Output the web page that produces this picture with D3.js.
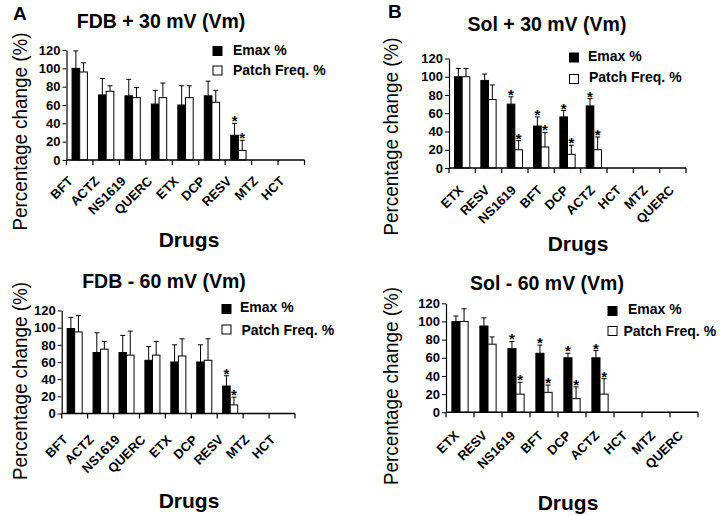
<!DOCTYPE html>
<html><head><meta charset="utf-8">
<script src="https://cdn.jsdelivr.net/npm/d3@7"></script>
<style>
html,body{margin:0;padding:0;background:#fff;}
svg{display:block;font-family:"Liberation Sans",Arial,sans-serif;}
</style></head>
<body><svg id="chart" width="720" height="516"></svg>
<script>
// ---------------- DATA ----------------
const seriesNames = ["Emax %", "Patch Freq. %"];
const yTicks = [0, 20, 40, 60, 80, 100, 120];

// Panel A: FDB + 30 mV
const catsA = ["BFT","ACTZ","NS1619","QUERC","ETX","DCP","RESV","MTZ","HCT"];
const emaxA = [100, 71, 70, 61, 60, 70, 27, 0, 0];
const emaxErrA = [19, 18, 18, 15, 21, 16, 13, 0, 0];
const patchA = [96, 75, 68, 68, 68, 63, 10.5, 0, 0];
const patchErrA = [10, 6, 11, 16, 13, 13, 11, 0, 0];
const starsA = ["RESV"];

// Panel B: Sol + 30 mV
const catsB = ["ETX","RESV","NS1619","BFT","DCP","ACTZ","HCT","MTZ","QUERC"];
const emaxB = [100, 96, 70, 46, 56, 68, 0, 0, 0];
const emaxErrB = [9, 7, 8, 10, 7, 8, 0, 0, 0];
const patchB = [100, 75, 20, 23, 15, 20, 0, 0, 0];
const patchErrB = [9, 16, 10, 16, 10, 14, 0, 0, 0];
const starsB = ["NS1619","BFT","DCP","ACTZ"];

// Panel C: FDB - 60 mV
const catsC = ["BFT","ACTZ","NS1619","QUERC","ETX","DCP","RESV","MTZ","HCT"];
const emaxC = [99, 71, 71, 62, 60, 60, 32, 0, 0];
const emaxErrC = [13, 23, 20, 16, 20, 20, 12, 0, 0];
const patchC = [95, 75, 68, 68, 67, 62, 10, 0, 0];
const patchErrC = [19, 9, 28, 16, 20, 25, 9, 0, 0];
const starsC = ["RESV"];

// Panel D: Sol - 60 mV
const catsD = ["ETX","RESV","NS1619","BFT","DCP","ACTZ","HCT","MTZ","QUERC"];
const emaxD = [100, 95, 70, 65, 60, 60, 0, 0, 0];
const emaxErrD = [6, 9, 8, 9, 5, 8, 0, 0, 0];
const patchD = [100, 75, 20, 22, 15, 20, 0, 0, 0];
const patchErrD = [14, 8, 13, 8, 13, 17, 0, 0, 0];
const starsD = ["NS1619","BFT","DCP","ACTZ"];

// ---------------- LAYOUT ----------------
const panels = [
  {letter:"A", lx:13, ly:20, title:"FDB + 30 mV (Vm)", tx:161, ty:28,
   cats:catsA, emax:emaxA, emaxErr:emaxErrA, patch:patchA, patchErr:patchErrA, stars:starsA,
   x0:66.5, x1:304.5, yb:160, yt:50, ylx:26.5, yly:131.5,
   dx:189, dy:247, sqx:213, sqy1:46.5, sqy2:66, t1x:233, t2x:233, t1y:54.5, t2y:75,
   labDx:-6, labDy:22},
  {letter:"B", lx:388, ly:18, title:"Sol + 30 mV (Vm)", tx:547, ty:30.5,
   cats:catsB, emax:emaxB, emaxErr:emaxErrB, patch:patchB, patchErr:patchErrB, stars:starsB,
   x0:449, x1:686, yb:168, yt:58.5, ylx:398, yly:136.5,
   dx:578, dy:251, sqx:569.5, sqy1:53, sqy2:74.5, t1x:588, t2x:589, t1y:60.5, t2y:82,
   labDx:2, labDy:23},
  {letter:"", title:"FDB - 60 mV (Vm)", tx:164, ty:288,
   cats:catsC, emax:emaxC, emaxErr:emaxErrC, patch:patchC, patchErr:patchErrC, stars:starsC,
   x0:61.7, x1:295, yb:413.5, yt:310.5, ylx:26.5, yly:381,
   dx:189, dy:508, sqx:222, sqy1:304.5, sqy2:325, t1x:240, t2x:241.5, t1y:312, t2y:335,
   labDx:-6, labDy:27},
  {letter:"", title:"Sol - 60 mV (Vm)", tx:547, ty:290,
   cats:catsD, emax:emaxD, emaxErr:emaxErrD, patch:patchD, patchErr:patchErrD, stars:starsD,
   x0:446, x1:698, yb:412.3, yt:303.3, ylx:398, yly:386,
   dx:568, dy:510, sqx:608, sqy1:306.5, sqy2:326.5, t1x:628, t2x:623.5, t1y:314, t2y:335.5,
   labDx:0, labDy:24}
];

const svg = d3.select("#chart");
svg.append("rect").attr("width",720).attr("height",516).attr("fill","#fff");

function drawPanel(p) {
  const g = svg.append("g");
  const n = p.cats.length;
  const pad = 0.42;
  const x = d3.scaleBand().domain(p.cats).range([p.x0, p.x1])
              .paddingInner(pad).paddingOuter(pad/2);
  const xs = d3.scaleBand().domain(seriesNames).range([0, x.bandwidth()]);
  const y = d3.scaleLinear().domain([0,120]).range([p.yb, p.yt]);
  const step = x.step();

  const rows = p.cats.map((c,i) => ({cat:c, vals:[
      {s:seriesNames[0], v:p.emax[i], e:p.emaxErr[i], star:p.stars.includes(c)},
      {s:seriesNames[1], v:p.patch[i], e:p.patchErr[i], star:p.stars.includes(c)}]}));

  // bars
  const grp = g.selectAll("g.cat").data(rows).join("g")
     .attr("transform", d => `translate(${x(d.cat)},0)`);
  grp.selectAll("rect").data(d => d.vals.filter(v => v.v > 0)).join("rect")
     .attr("x", d => xs(d.s)).attr("width", xs.bandwidth())
     .attr("y", d => y(d.v)).attr("height", d => y(0) - y(d.v))
     .attr("fill", d => d.s === seriesNames[0] ? "#000" : "#fff")
     .attr("stroke", "#000").attr("stroke-width", 1);
  // error bars
  const eb = grp.selectAll("g.err").data(d => d.vals.filter(v => v.e > 0)).join("g");
  eb.append("line")
    .attr("x1", d => xs(d.s) + xs.bandwidth()/2).attr("x2", d => xs(d.s) + xs.bandwidth()/2)
    .attr("y1", d => y(d.v)).attr("y2", d => y(d.v + d.e))
    .attr("stroke","#000").attr("stroke-width",1);
  eb.append("line")
    .attr("x1", d => xs(d.s) + xs.bandwidth()/2 - 2.5).attr("x2", d => xs(d.s) + xs.bandwidth()/2 + 2.5)
    .attr("y1", d => y(d.v + d.e)).attr("y2", d => y(d.v + d.e))
    .attr("stroke","#000").attr("stroke-width",1);
  // significance stars
  grp.selectAll("text.star").data(d => d.vals.filter(v => v.star && v.v > 0)).join("text")
    .attr("x", d => xs(d.s) + xs.bandwidth()/2)
    .attr("y", d => y(d.v + d.e) + 3)
    .attr("text-anchor","middle").attr("font-size",15).attr("font-weight","bold").text("*");

  // y axis
  const ya = g.append("g").attr("transform", `translate(${p.x0},0)`)
     .call(d3.axisLeft(y).tickValues(yTicks).tickSize(4).tickPadding(2).tickSizeOuter(0));
  ya.select(".domain").attr("stroke","#000").attr("stroke-width",1.2);
  ya.selectAll("text").attr("font-size",13).attr("font-weight","bold")
     .attr("font-family","Liberation Sans, Arial, sans-serif").attr("fill","#000");
  ya.selectAll(".tick line").attr("stroke","#000");

  // x axis line + boundary ticks
  g.append("line").attr("x1",p.x0).attr("x2",p.x1).attr("y1",y(0)).attr("y2",y(0))
     .attr("stroke","#000").attr("stroke-width",1.4);
  const bounds = d3.range(n+1);
  g.selectAll("line.xt").data(bounds).join("line")
     .attr("x1", i => p.x0 + i*step).attr("x2", i => p.x0 + i*step)
     .attr("y1", y(0)).attr("y2", y(0)+5).attr("stroke","#000").attr("stroke-width",1.2);
  // category labels
  g.selectAll("text.xl").data(p.cats).join("text")
     .attr("transform", c => `translate(${x(c) + x.bandwidth()/2 + p.labDx},${y(0) + p.labDy}) rotate(-45)`)
     .attr("text-anchor","end").attr("font-size",13).attr("font-weight","bold").text(c => c);

  // titles & labels
  g.append("text").attr("x",p.tx).attr("y",p.ty).attr("text-anchor","middle")
     .attr("font-size",19.5).attr("font-weight","bold").text(p.title);
  if (p.letter) g.append("text").attr("x",p.lx).attr("y",p.ly)
     .attr("font-size",19).attr("font-weight","bold").text(p.letter);
  g.append("text").attr("transform",`translate(${p.ylx},${p.yly}) rotate(-90)`)
     .attr("text-anchor","middle").attr("font-size",20)
     .attr("textLength",198).attr("lengthAdjust","spacingAndGlyphs")
     .text("Percentage change (%)");
  g.append("text").attr("x",p.dx).attr("y",p.dy).attr("text-anchor","middle")
     .attr("font-size",21).attr("font-weight","bold").text("Drugs");

  // legend
  g.append("rect").attr("x",p.sqx).attr("y",p.sqy1).attr("width",9).attr("height",9)
     .attr("fill","#000").attr("stroke","#000");
  g.append("rect").attr("x",p.sqx).attr("y",p.sqy2).attr("width",9).attr("height",9)
     .attr("fill","#fff").attr("stroke","#000");
  g.append("text").attr("x",p.t1x).attr("y",p.t1y).attr("font-size",14).attr("font-weight","bold").text(seriesNames[0]);
  g.append("text").attr("x",p.t2x).attr("y",p.t2y).attr("font-size",14).attr("font-weight","bold").text(seriesNames[1]);
}
panels.forEach(drawPanel);
</script></body></html>
